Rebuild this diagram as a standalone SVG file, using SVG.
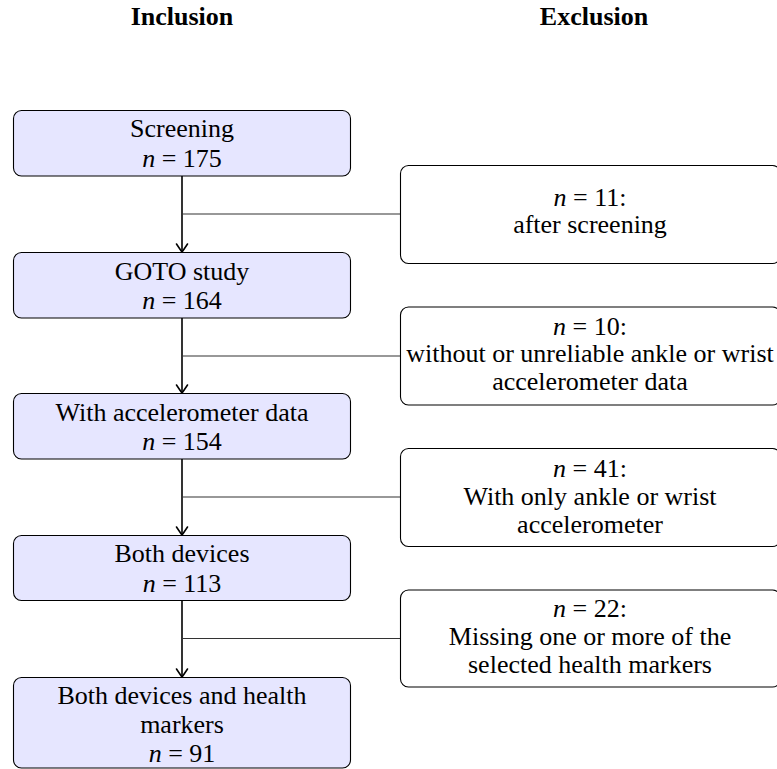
<svg xmlns="http://www.w3.org/2000/svg" width="777" height="769" viewBox="0 0 777 769" font-family="Liberation Serif, Times New Roman, serif">
<style>
text{font-family:'Liberation Serif','Times New Roman',Times,serif;font-size:26px;fill:#000}
.hdr{font-weight:bold}
.inc{fill:#e6e6ff;stroke:#000;stroke-width:1.1}
.exc{fill:#fff;stroke:#000;stroke-width:1.1}
.v{stroke:#000;stroke-width:1.6;fill:none}
.h{stroke:#333;stroke-width:1.1;fill:none}
.l{text-anchor:middle}
.m{font-style:italic}
</style>
<defs>
<marker id="arr" viewBox="-10 -7 12 14" markerWidth="12" markerHeight="14" refX="0" refY="0" orient="auto" markerUnits="userSpaceOnUse" overflow="visible">
<path d="M-8,-5.5 Q-2,-1.5 0,0 Q-2,1.5 -8,5.5" fill="none" stroke="#000" stroke-width="1.6" stroke-linecap="round"/>
</marker>
</defs>
<g id="headers">
<text class="hdr l" x="182" y="25">Inclusion</text>
<text class="hdr l" x="594" y="25">Exclusion</text>
</g>
<g id="connectors">
<line class="v" x1="182" y1="176" x2="182" y2="252" marker-end="url(#arr)"/>
<line class="v" x1="182" y1="318" x2="182" y2="393" marker-end="url(#arr)"/>
<line class="v" x1="182" y1="459" x2="182" y2="535" marker-end="url(#arr)"/>
<line class="v" x1="182" y1="600" x2="182" y2="677" marker-end="url(#arr)"/>
<line class="h" x1="182" y1="214" x2="400" y2="214"/>
<line class="h" x1="182" y1="356" x2="400" y2="356"/>
<line class="h" x1="182" y1="497" x2="400" y2="497"/>
<line class="h" x1="182" y1="638.5" x2="400" y2="638.5"/>
</g>
<g id="screening">
<rect class="inc" x="13.5" y="110.5" width="337" height="65.5" rx="8"/>
<text class="l" x="182" y="137">Screening</text>
<text class="l" x="182" y="166.5"><tspan class="m">n</tspan> = 175</text>
</g>
<g id="goto">
<rect class="inc" x="13.5" y="252.5" width="337" height="65.5" rx="8"/>
<text class="l" x="182" y="279.5">GOTO study</text>
<text class="l" x="182" y="309"><tspan class="m">n</tspan> = 164</text>
</g>
<g id="accel">
<rect class="inc" x="13.5" y="393.5" width="337" height="65.5" rx="8"/>
<text class="l" x="182" y="420.5">With accelerometer data</text>
<text class="l" x="182" y="450"><tspan class="m">n</tspan> = 154</text>
</g>
<g id="both">
<rect class="inc" x="13.5" y="535.5" width="337" height="65" rx="8"/>
<text class="l" x="182" y="562">Both devices</text>
<text class="l" x="182" y="591.5"><tspan class="m">n</tspan> = 113</text>
</g>
<g id="bothhealth">
<rect class="inc" x="13.5" y="677.5" width="337" height="90.5" rx="8"/>
<text class="l" x="182" y="704">Both devices and health</text>
<text class="l" x="182" y="733">markers</text>
<text class="l" x="182" y="762"><tspan class="m">n</tspan> = 91</text>
</g>
<g id="ex1">
<rect class="exc" x="400.5" y="165.5" width="380" height="98" rx="8"/>
<text class="l" x="590" y="206"><tspan class="m">n</tspan> = 11:</text>
<text class="l" x="590" y="233">after screening</text>
</g>
<g id="ex2">
<rect class="exc" x="400.5" y="307" width="380" height="98" rx="8"/>
<text class="l" x="590" y="334.5"><tspan class="m">n</tspan> = 10:</text>
<text class="l" x="590" y="362">without or unreliable ankle or wrist</text>
<text class="l" x="590" y="389.5">accelerometer data</text>
</g>
<g id="ex3">
<rect class="exc" x="400.5" y="448.5" width="380" height="98" rx="8"/>
<text class="l" x="590" y="476.5"><tspan class="m">n</tspan> = 41:</text>
<text class="l" x="590" y="504.5">With only ankle or wrist</text>
<text class="l" x="590" y="532.5">accelerometer</text>
</g>
<g id="ex4">
<rect class="exc" x="400.5" y="590" width="380" height="97" rx="8"/>
<text class="l" x="590" y="617"><tspan class="m">n</tspan> = 22:</text>
<text class="l" x="590" y="645">Missing one or more of the</text>
<text class="l" x="590" y="672.5">selected health markers</text>
</g>
</svg>
